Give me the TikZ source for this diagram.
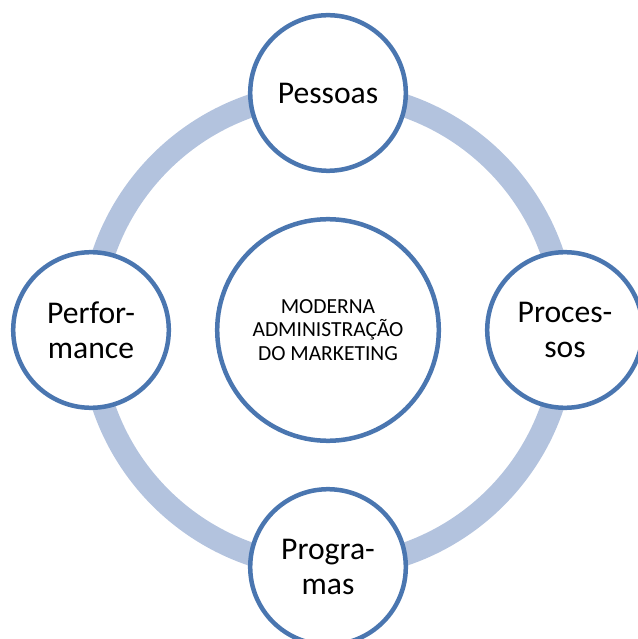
\documentclass[tikz,border=0pt]{standalone}
\usepackage{fontspec}
\setmainfont{Carlito}
\usetikzlibrary{positioning}
\newdimen\ringDist
\ringDist=5.925cm
\definecolor{ringblue}{HTML}{B3C3DE}
\definecolor{edgeblue}{HTML}{4A76B0}

\begin{document}
\begin{tikzpicture}[
    stage/.style={%
      draw=edgeblue,
      fill=white,
      circle,
      line width=3.2pt,
      minimum size=3.89cm,
      inner sep=0pt,
      align=center,
      font=\fontsize{22.5}{25}\selectfont,
    },
    core/.style={%
      stage,
      minimum size=5.54cm,
      font=\fontsize{15.3}{16.8}\selectfont,
    },
    ring/.style={%
      draw=ringblue,
      line width=0.575cm,
    },
  ]
    \useasboundingbox (0,0) rectangle (15.925,-15.975);

    \node [core] (M) at (8.2,-8.25) {MODERNA\\ADMINISTRAÇÃO\\DO MARKETING};
    \draw [ring] (M.center) circle (\ringDist);

    \path (M) ++(90:\ringDist) node [stage] (P) {Pessoas};
    \path (M) ++(0:\ringDist) node [stage] (R) {Proces-\\sos};
    \path (M) ++(-90:\ringDist) node [stage] (G) {Progra-\\mas};
    \path (M) ++(180:\ringDist) node [stage] (F) {Perfor-\\mance};
\end{tikzpicture}
\end{document}
